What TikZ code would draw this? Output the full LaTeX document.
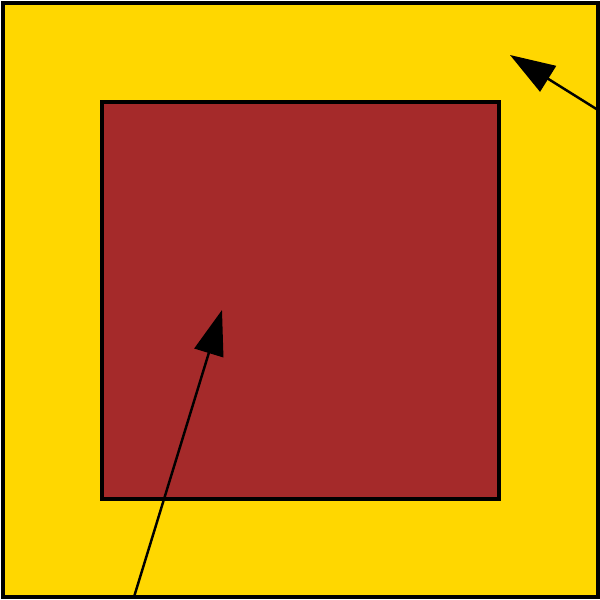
\documentclass[tikz,border=0pt]{standalone}
\usetikzlibrary{arrows.meta}
\definecolor{goldbg}{HTML}{FFD700}
\definecolor{brownsq}{HTML}{A52A2A}

\begin{document}
\begin{tikzpicture}[>={Triangle[length=4.5mm, width=3mm]}, line width=0.7pt]
\useasboundingbox (0,0) rectangle (6,6);

% Outer square
\fill[goldbg] (0.03,0.03) rectangle (5.98,5.97);
\draw[black, line width=0.9pt] (0.03,0.03) rectangle (5.98,5.97);

% Inner square
\fill[brownsq] (1.02,1.01) rectangle (4.99,4.98);
\draw[black, line width=0.9pt] (1.02,1.01) rectangle (4.99,4.98);

% Arrows
\coordinate (lowstart) at (1.34,0.03);
\coordinate (lowtip) at (2.22,2.90);
\coordinate (rightstart) at (5.98,4.90);
\coordinate (righttip) at (5.10,5.45);
\draw[->] (lowstart) -- (lowtip);
\draw[->] (rightstart) -- (righttip);

\end{tikzpicture}
\end{document}
